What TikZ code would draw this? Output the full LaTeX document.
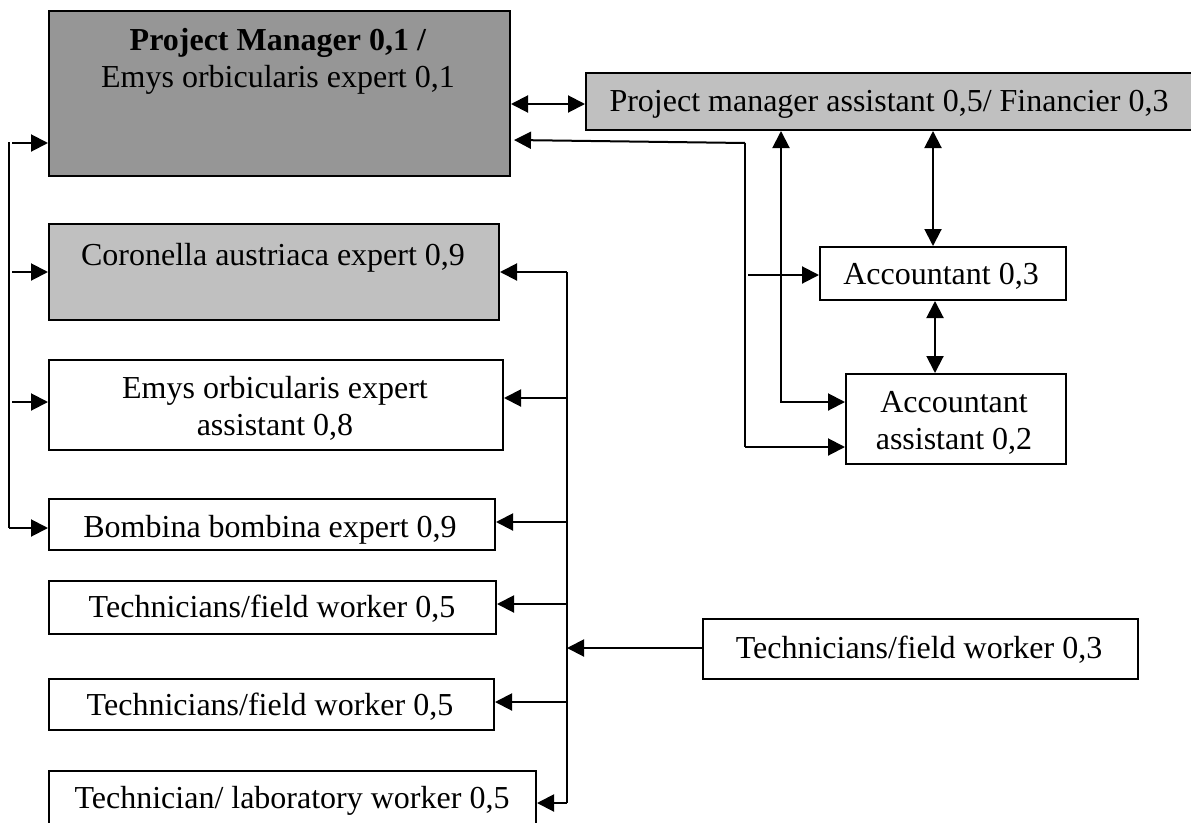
\documentclass[tikz,border=0pt]{standalone}
\usepackage{fontspec}
\setmainfont{Liberation Serif}
\usetikzlibrary{arrows.meta}
\definecolor{darkbox}{RGB}{150,150,150}
\definecolor{lightbox}{RGB}{192,192,192}
\newcommand{\twoline}[2]{\begin{tabular}[t]{@{}c@{}}#1\\#2\end{tabular}}
\begin{document}
\begin{tikzpicture}[x=1pt,y=-1pt,
  box/.style={draw, line width=2pt, inner sep=0pt, anchor=north west},
  txt/.style={font=\fontsize{32}{37}\selectfont, inner sep=0pt, anchor=base},
  con/.style={line width=2pt},
  arrowend/.style={-{Triangle[length=17pt,width=17pt]}},
  arrowboth/.style={{Triangle[length=17pt,width=17pt]}-{Triangle[length=17pt,width=17pt]}}]
\useasboundingbox[fill=white] (0,0) rectangle (1191,822);

% boxes
\node[box, fill=darkbox, minimum width=461pt, minimum height=165pt] (pm) at (48,10) {};
\node[box, fill=lightbox, minimum width=450pt, minimum height=96pt] (cor) at (48,223) {};
\node[box, minimum width=454pt, minimum height=90pt] (ema) at (48,359) {};
\node[box, minimum width=446pt, minimum height=51pt] (bom) at (48,498) {};
\node[box, minimum width=447pt, minimum height=53pt] (tf1) at (48,580) {};
\node[box, minimum width=445pt, minimum height=51pt] (tf2) at (48,678) {};
\node[box, minimum width=487pt, minimum height=60pt] (lab) at (48,770) {};
\node[box, fill=lightbox, minimum width=610pt, minimum height=57pt] (pma) at (585,72) {};
\node[box, minimum width=246pt, minimum height=53pt] (acc) at (819,246) {};
\node[box, minimum width=220pt, minimum height=90pt] (aa) at (845,373) {};
\node[box, minimum width=435pt, minimum height=60pt] (tf3) at (702,618) {};

% texts
\node[txt] (pmt) at (278,50) {\twoline{\textbf{Project Manager 0,1 /}}{Emys orbicularis expert 0,1}};
\node[txt] (cort) at (273,265) {Coronella austriaca expert 0,9};
\node[txt] (emat) at (275,398) {\twoline{Emys orbicularis expert}{assistant 0,8}};
\begin{scope}
  \clip (bom.north west) rectangle ([yshift=-10pt]bom.south east);
  \node[txt] (bomt) at (270,537) {Bombina bombina expert 0,9};
\end{scope}
\node[txt] (tf1t) at (272,617) {Technicians/field worker 0,5};
\node[txt] (tf2t) at (270,715) {Technicians/field worker 0,5};
\node[txt] (labt) at (292,808) {Technician/ laboratory worker 0,5};
\node[txt] (pmat) at (889,111) {Project manager assistant 0,5/ Financier 0,3};
\node[txt] (acct) at (941,284) {Accountant 0,3};
\node[txt] (aat) at (954,412) {\twoline{Accountant}{assistant 0,2}};
\node[txt] (tf3t) at (919,658) {Technicians/field worker 0,3};

% left bus
\coordinate (lb0) at (9,142);
\coordinate (lb1) at (12,143);
\coordinate (lb2) at (12,272);
\coordinate (lb3) at (12,402);
\coordinate (lb4) at (9,528);
\draw[con] (lb0) -- (lb4);
\draw[con,arrowend] (lb1) -- (lb1 -| pm.west);
\draw[con,arrowend] (lb2) -- (lb2 -| cor.west);
\draw[con,arrowend] (lb3) -- (lb3 -| ema.west);
\draw[con,arrowend] (lb4) -- (lb4 -| bom.west);

% right bus
\coordinate (rb1) at (567,272);
\coordinate (rb2) at (567,398);
\coordinate (rb3) at (567,522);
\coordinate (rb4) at (567,604);
\coordinate (rb5) at (567,648);
\coordinate (rb6) at (567,702);
\coordinate (rb7) at (567,803);
\draw[con] (rb1) -- (rb7);
\draw[con,arrowend] (rb1) -- (rb1 -| cor.east);
\draw[con,arrowend] (rb2) -- (rb2 -| ema.east);
\draw[con,arrowend] (rb3) -- (rb3 -| bom.east);
\draw[con,arrowend] (rb4) -- (rb4 -| tf1.east);
\draw[con,arrowend] (rb6) -- (rb6 -| tf2.east);
\draw[con,arrowend] (rb7) -- (rb7 -| lab.east);
\draw[con,arrowend] (rb5 -| tf3.west) -- (rb5);

% top right connections
\coordinate (h1) at (547,104);
\draw[con,arrowboth] (h1 -| pm.east) -- (h1 -| pma.west);
\coordinate (rv0) at (600,140);
\coordinate (rv1) at (745,143);
\coordinate (rv2) at (745,447);
\coordinate (rv3) at (748,275);
\draw[con,arrowend] (rv1) -- ([xshift=3pt]rv0 -| pm.east);
\draw[con] (rv1) -- (rv2);
\draw[con,arrowend] (rv2) -- (rv2 -| aa.west);
\draw[con,arrowend] (rv3) -- (rv3 -| acc.west);
\coordinate (v1) at (781,402);
\draw[con,arrowboth] (v1 |- pma.south) -- (v1) -- (v1 -| aa.west);
\coordinate (v2) at (933,200);
\draw[con,arrowboth] (v2 |- pma.south) -- (v2 |- acc.north);
\coordinate (v3) at (935,330);
\draw[con,arrowboth] (v3 |- acc.south) -- (v3 |- aa.north);
\end{tikzpicture}
\end{document}
